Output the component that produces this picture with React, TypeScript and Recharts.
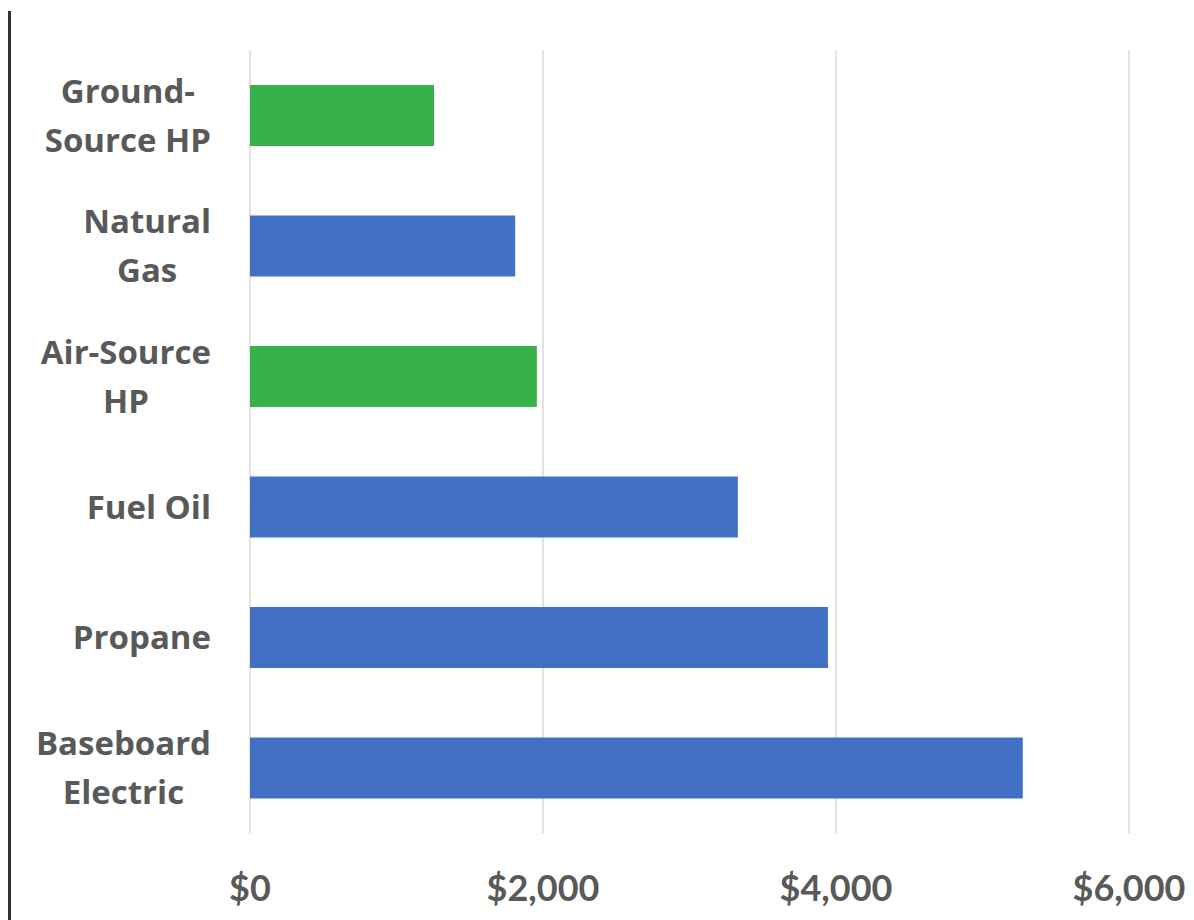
import { BarChart, Bar, XAxis, YAxis, CartesianGrid, Cell } from "recharts";

const categories = [
  "Ground-\nSource HP",
  "Natural\nGas",
  "Air-Source\nHP",
  "Fuel Oil",
  "Propane",
  "Baseboard\nElectric",
];
const costs = [1256, 1810, 1958, 3330, 3945, 5275];
const heatPump = [true, false, true, false, false, false];
const xTicks = [0, 2000, 4000, 6000];

const data = categories.map((name, i) => ({ name, cost: costs[i], hp: heatPump[i] }));

const FONT = "Lato, 'Open Sans', sans-serif";
const LABEL_FONT = "'Open Sans', Lato, sans-serif";
const TEXT = "#595959";
const LABEL_SIZE = 33;

let ctx: CanvasRenderingContext2D | null = null;
function measure(s: string) {
  if (!ctx) ctx = document.createElement("canvas").getContext("2d");
  if (!ctx) return s.length * LABEL_SIZE * 0.58;
  ctx.font = `bold ${LABEL_SIZE}px 'Open Sans'`;
  return ctx.measureText(s).width;
}

function CategoryTick(props: any) {
  const { y, payload } = props;
  const lines: string[] = String(payload.value).split("\n");
  const right = 211;
  const w = Math.max(...lines.map(measure));
  const cx = right - w / 2;
  const lh = 49;
  const y0 = y - ((lines.length - 1) * lh) / 2;
  return (
    <text
      textAnchor="middle"
      fill={TEXT}
      fontFamily={LABEL_FONT}
      fontWeight={700}
      fontSize={LABEL_SIZE}
    >
      {lines.map((l, i) => (
        <tspan key={i} x={cx} y={y0 + i * lh} dy="0.36em">
          {l}
        </tspan>
      ))}
    </text>
  );
}

export default function App() {
  return (
    <div style={{ position: "absolute", left: 0, top: 0, width: 1194, height: 920, background: "#fff" }}>
      <div
        style={{
          position: "absolute",
          left: 8,
          top: 11,
          width: 3,
          height: 909,
          background: "#333",
        }}
      />
      <BarChart
        layout="vertical"
        width={1194}
        height={920}
        data={data}
        margin={{ top: 50, right: 65, bottom: 0, left: 0 }}
        barCategoryGap={35}
      >
        <CartesianGrid horizontal={false} stroke="#d9d9d9" strokeWidth={1.5} />
        <XAxis
          type="number"
          domain={[0, 6000]}
          ticks={xTicks}
          height={87}
          axisLine={false}
          tickLine={false}
          tickMargin={36}
          tickFormatter={(v: number) => "$" + v.toLocaleString("en-US")}
          tick={{ fill: TEXT, fontSize: 36, fontWeight: 700, fontFamily: FONT }}
        />
        <YAxis
          type="category"
          dataKey="name"
          width={250}
          axisLine={false}
          tickLine={false}
          tick={<CategoryTick />}
        />
        <Bar dataKey="cost" isAnimationActive={false}>
          {data.map((d, i) => (
            <Cell key={i} fill={d.hp ? "#37b24a" : "#4270c4"} />
          ))}
        </Bar>
      </BarChart>
    </div>
  );
}
